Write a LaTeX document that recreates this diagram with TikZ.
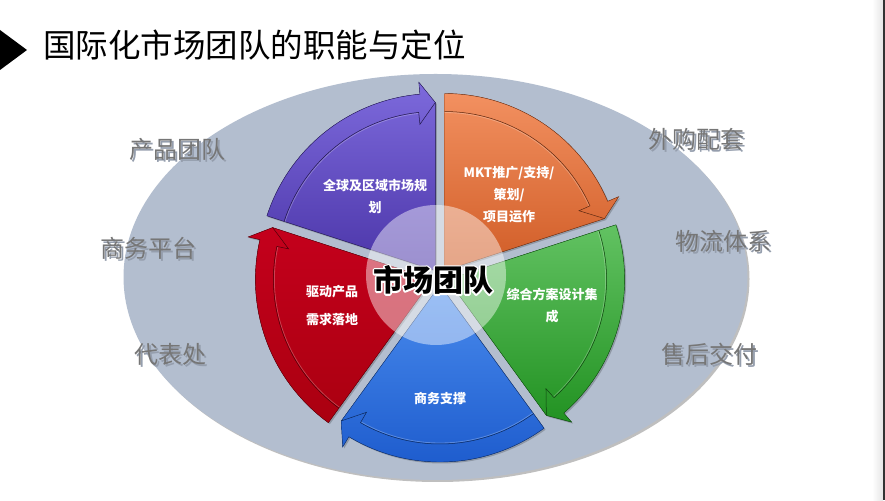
\documentclass[tikz,border=0pt]{standalone}
\usepackage{fontspec}
\setmainfont{Noto Sans CJK SC}
\usetikzlibrary{positioning}

\definecolor{ovalfill}{HTML}{B3BECF}
\definecolor{outertext}{HTML}{767676}
\definecolor{textshadow}{HTML}{959EAD}
\definecolor{puT}{HTML}{7D6ADC}
\definecolor{puB}{HTML}{4B35A8}
\definecolor{orT}{HTML}{F29060}
\definecolor{orB}{HTML}{D05C26}
\definecolor{grT}{HTML}{62C262}
\definecolor{grB}{HTML}{229222}
\definecolor{blT}{HTML}{4A8CEE}
\definecolor{blB}{HTML}{1C5ACC}
\definecolor{rdT}{HTML}{C4001C}
\definecolor{rdB}{HTML}{AA0010}

\newcommand{\haloText}[1]{\special{pdf:literal direct 1 Tr 3.2 w 1 j}#1\special{pdf:literal direct 0 Tr 1 w 0 j}}
\newcommand{\shadowText}[1]{\rlap{\hspace{2pt}\raisebox{-2pt}{\textcolor{textshadow}{#1}}}#1}

\tikzset{
  seglabel/.style={text=white, font=\bfseries\fontsize{13}{22}\selectfont, align=center},
  outerlabel/.style={text=outertext, font=\fontsize{24}{28}\selectfont},
  teamlabel/.style={font=\bfseries\fontsize{30}{34}\selectfont},
}

\begin{document}
\begin{tikzpicture}[x=1pt,y=1pt]
    \useasboundingbox (0,0) rectangle (885,500);
    \fill[white] (0,0) rectangle (885,500);
    \shade[left color=white, right color=black!10] (872,0) rectangle (883,500);
    \fill[black!80] (883,0) rectangle (885,500);

    % title
    \fill[black] (0,470) -- (27,450) -- (0,430) -- cycle;
    \node[anchor=west, font=\fontsize{32.5}{36}\selectfont, inner sep=0pt] (title) at (43,455) {国际化市场团队的职能与定位};

    % background oval
    \fill[black, opacity=0.25] (437.5,221) ellipse[x radius=312, y radius=203];
    \fill[ovalfill] (435.5,223) ellipse[x radius=312, y radius=203];

    % five segments with curved arrows
    \def\R{177}
    \def\ri{159}
    \foreach \m/\ct/\cb in {54/orT/orB, -18/grT/grB, -90/blT/blB, -162/rdT/rdB, 126/puT/puB}{
        \pgfmathsetmacro{\a}{\m+36}
        \pgfmathsetmacro{\b}{\m-36}
        \pgfmathsetmacro{\e}{\m-31}
        \pgfmathsetmacro{\f}{\m-30}
        \begin{scope}[shift={(440,223)}, shift={(\m:8)}]
            \fill[black, opacity=0.2, shift={(1.5,-1.5)}] (0,0) -- (\a:\R) arc[start angle=\a, end angle=\e, radius=\R]
                -- (\e:\R+12) -- (\b:168) -- cycle;
            \fill[top color=\ct, bottom color=\cb, draw=\cb!60!black, line width=0.4pt]
                (0,0) -- (\a:\R) arc[start angle=\a, end angle=\e, radius=\R]
                -- (\e:\R+12) -- (\b:168) -- cycle;
            \draw[white, opacity=0.25, line width=0.8pt] (\a:\ri-1) arc[start angle=\a, end angle=\f, radius=\ri-1];
            \draw[\cb!45!black, line width=0.5pt] (\a:\ri) arc[start angle=\a, end angle=\f, radius=\ri]
                -- (\f:147) -- (\b:168);
        \end{scope}
    }

    % centre disc
    \fill[white, opacity=0.45] (436,225) circle[radius=70];

    % segment texts
    \node[seglabel] (plan) at (375,304) {全球及区域市场规\\划};
    \node[seglabel] (mkt) at (509,305) {MKT推广/支持/\\策划/\\项目运作};
    \node[seglabel] (design) at (552,194) {综合方案设计集\\成};
    \node[seglabel] (biz) at (440,101) {商务支撑};
    \node[seglabel, font=\bfseries\fontsize{13}{28}\selectfont] (demand) at (332,194) {驱动产品\\需求落地};

    % centre title with white outline
    \node[teamlabel, text=white] (teamhalo) at (433,220) {\haloText{市场团队}};
    \node[teamlabel, text=black] (team) at (433,220) {市场团队};

    % outer texts
    \foreach \txt/\x/\y [count=\i] in {产品团队/177/350, 商务平台/148/251, 代表处/170/145,
                                      外购配套/696/360, 物流体系/723/258, 售后交付/709/145}
        \node[outerlabel] (outer\i) at (\x,\y) {\shadowText{\txt}};
\end{tikzpicture}
\end{document}
